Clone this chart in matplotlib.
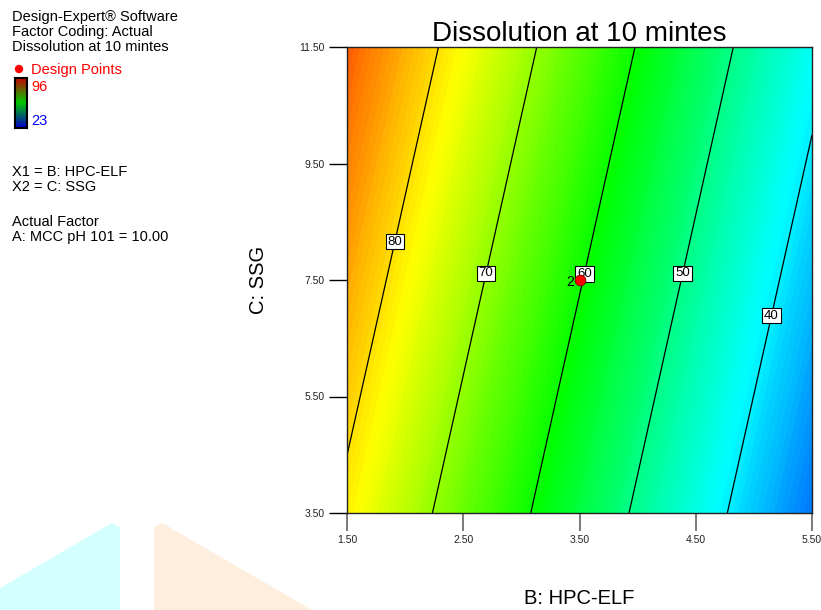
import matplotlib.pyplot as plt
import numpy as np
from matplotlib.colors import LinearSegmentedColormap
from matplotlib.patches import Polygon, Ellipse

plt.rcParams['font.family'] = ['Liberation Sans', 'DejaVu Sans']

# factor grid (B: HPC-ELF, C: SSG) and response values
hpc = [1.50, 2.50, 3.50, 4.50, 5.50]
ssg = [3.50, 5.50, 7.50, 9.50, 11.50]
# rows follow ssg, columns follow hpc
dissolution = [
    [78.69, 66.87, 55.04, 43.21, 31.39],
    [81.34, 69.52, 57.69, 45.87, 34.04],
    [84.00, 72.17, 60.35, 48.52, 36.69],
    [86.65, 74.82, 63.00, 51.17, 39.35],
    [89.30, 77.48, 65.65, 53.82, 42.00],
]
contour_levels = [40, 50, 60, 70, 80]
resp_min, resp_max = 23, 96

design_b = [3.50]
design_c = [7.50]
design_count = ["2"]

# label spots along each contour line
label_spots = [(5.13, 6.90), (4.37, 7.62), (3.51, 7.62), (2.68, 7.62), (1.89, 8.17)]

rainbow = LinearSegmentedColormap.from_list(
    "de", ["#0000ff", "#00ffff", "#00ff00", "#ffff00", "#ff0000"])
legend_cmap = LinearSegmentedColormap.from_list(
    "leg", ["#0000c8", "#00c800", "#c80000"])

fig = plt.figure(figsize=(8.21, 6.10), dpi=100)
ax = fig.add_axes([347/821, 1 - 513/610, 465/821, 466/610])

X, Y = np.meshgrid(hpc, ssg)
Z = np.array(dissolution)
ax.contourf(X, Y, Z, levels=np.linspace(resp_min, resp_max, 120),
            cmap=rainbow, vmin=resp_min, vmax=resp_max)
cs = ax.contour(X, Y, Z, levels=contour_levels, colors='black', linewidths=0.9)
labels = ax.clabel(cs, manual=label_spots, inline=False, fmt='%d', fontsize=9.5)
for t in labels:
    t.set_rotation(0)
    t.set_bbox(dict(facecolor='white', edgecolor='black', linewidth=0.8, pad=1.3))

ax.scatter(design_b, design_c, s=60, color='red', edgecolor='#800000',
           linewidth=0.6, zorder=5)
for b, c, n in zip(design_b, design_c, design_count):
    ax.text(b - 0.045, c - 0.03, n, ha='right', va='center', fontsize=10, zorder=5)

ax.set_xlim(1.5, 5.5)
ax.set_ylim(3.5, 11.5)
ax.set_xticks(hpc)
ax.set_yticks(ssg)
ax.set_xticklabels(["%.2f" % v for v in hpc], fontsize=7.5, color='#222222')
ax.set_yticklabels(["%.2f" % v for v in ssg], fontsize=7.5, color='#222222')
ax.tick_params(axis='x', length=13, width=1.3, color='#707070', pad=3)
ax.tick_params(axis='y', length=13, width=1.0, color='black', pad=3)
for s in ax.spines.values():
    s.set_linewidth(1.0)
    s.set_color('#222222')

ax.set_title("Dissolution at 10 mintes", fontsize=20, pad=3)
fig.text(579/821, 1 - 598/610, "B: HPC-ELF", ha='center', va='center', fontsize=14.5)
fig.text(258/821, 1 - 280/610, "C: SSG", ha='center', va='center', fontsize=14.5,
         rotation=90)

# left side info block
fs = 10.5
info = ["Design-Expert® Software", "Factor Coding: Actual", "Dissolution at 10 mintes"]
for i, line in enumerate(info):
    fig.text(12/821, 1 - (17 + 15*i)/610, line, fontsize=fs, va='center')
fig.add_artist(Ellipse((19/821, 1 - 69/610), 7/821, 7/610, color='red',
                       transform=fig.transFigure))
fig.text(31/821, 1 - 70/610, "Design Points", fontsize=fs, color='red', va='center')
cax = fig.add_axes([15/821, 1 - 128/610, 12/821, 50/610])
cax.imshow(np.linspace(1, 0, 50).reshape(-1, 1), aspect='auto', cmap=legend_cmap)
cax.set_xticks([])
cax.set_yticks([])
for s in cax.spines.values():
    s.set_linewidth(1.5)
fig.text(31/821, 1 - 87/610, str(resp_max), fontsize=fs, color='red', va='center')
fig.text(31/821, 1 - 121/610, str(resp_min), fontsize=fs, color='blue', va='center')

info2 = [(172, "X1 = B: HPC-ELF"), (187, "X2 = C: SSG"),
         (222, "Actual Factor"), (237, "A: MCC pH 101 = 10.00")]
for py, line in info2:
    fig.text(12/821, 1 - py/610, line, fontsize=fs, va='center')

# faint watermark shapes at bottom left
def px(pts):
    return [(x/821, 1 - y/610) for x, y in pts]

fig.patches.append(Polygon(px([(0, 588), (112, 523), (120, 527), (120, 610), (0, 610)]),
                           closed=True, facecolor='#d4ffff', edgecolor='none',
                           transform=fig.transFigure, zorder=0))
fig.patches.append(Polygon(px([(154, 527), (162, 523), (312, 610), (154, 610)]),
                           closed=True, facecolor='#fdeede', edgecolor='none',
                           transform=fig.transFigure, zorder=0))

fig.savefig("out.png", dpi=100)
